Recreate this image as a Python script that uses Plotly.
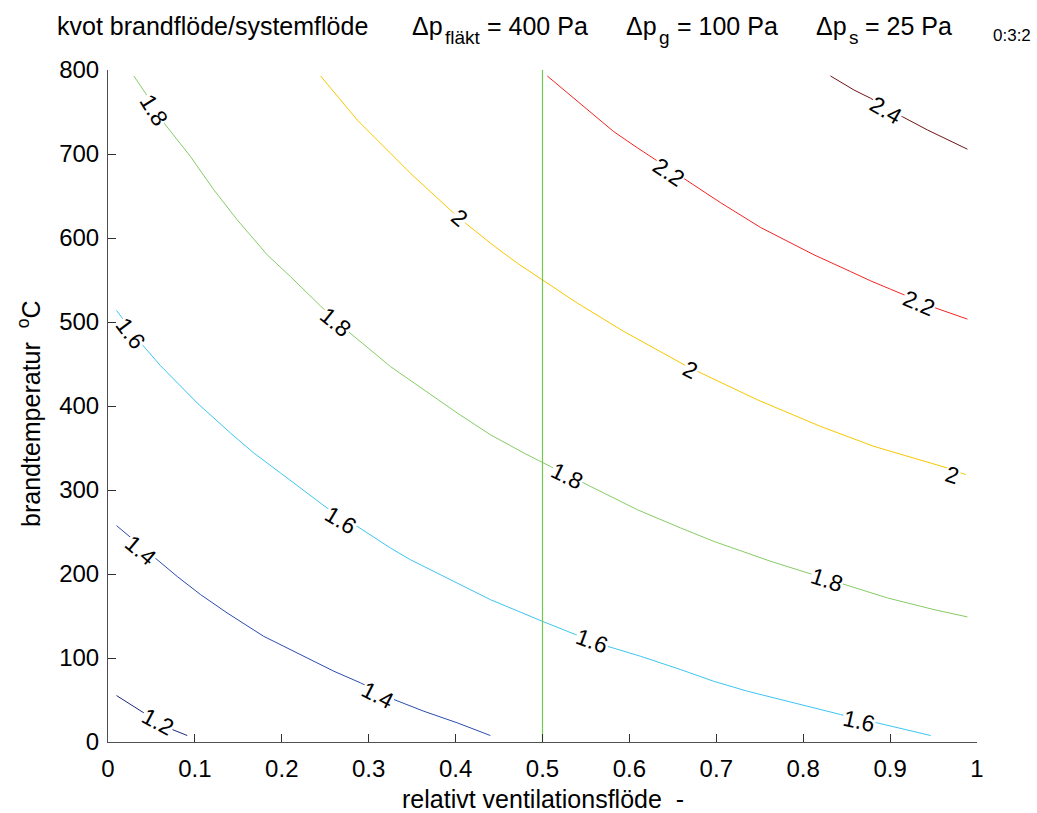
import plotly.graph_objects as go

# ---- data ----
levels = ["1.2", "1.4", "1.6", "1.8", "2", "2.2", "2.4"]

x_12 = [0.0098, 0.0317, 0.0412, 0.0739, 0.0912]
y_12 = [55.3, 40.7, 34.7, 14.9, 7.7]

x_14 = [0.0098, 0.0527, 0.0797, 0.1065, 0.137, 0.179, 0.2216, 0.260, 0.2906, 0.329, 0.3635, 0.402, 0.440]
y_14 = [257.6, 221.0, 197.0, 175.5, 153.7, 125.9, 104.1, 84.2, 70.4, 50.6, 36.6, 22.8, 7.7]

x_16 = [0.0098, 0.0412, 0.0604, 0.0834, 0.1027, 0.141, 0.1678, 0.1986, 0.229, 0.252, 0.2868, 0.325,
        0.348, 0.398, 0.440, 0.4998, 0.538, 0.5746, 0.613, 0.659, 0.697, 0.736, 0.7818, 0.843, 0.885, 0.9467]
y_16 = [513.7, 470.9, 448.0, 423.3, 403.5, 367.8, 344.0, 320.2, 296.4, 278.6, 256.7, 231.0,
        217.0, 191.3, 169.5, 143.7, 127.9, 114.0, 102.0, 86.2, 72.3, 60.4, 48.5, 32.7, 22.8, 7.7]

x_18 = [0.0297, 0.0432, 0.0662, 0.095, 0.1218, 0.1487, 0.1832, 0.210, 0.2446, 0.2772, 0.325, 0.3635,
        0.402, 0.440, 0.4786, 0.509, 0.5516, 0.609, 0.659, 0.697, 0.7626, 0.8048, 0.847, 0.897, 0.9505, 0.989]
y_18 = [792.9, 772.3, 734.6, 696.9, 657.3, 621.6, 580.0, 554.0, 519.0, 488.0, 447.0, 419.3,
        391.6, 365.8, 344.0, 328.1, 306.3, 276.6, 254.8, 238.9, 215.1, 201.3, 187.4, 171.5, 157.6, 148.9]

x_20 = [0.2446, 0.2868, 0.325, 0.350, 0.398, 0.4115, 0.440, 0.471, 0.4998, 0.540, 0.5937, 0.6667,
        0.7472, 0.820, 0.8815, 0.966, 0.987]
y_20 = [792.9, 740.5, 701.0, 675.1, 629.5, 617.6, 593.9, 570.0, 550.2, 522.5, 488.7, 447.0,
        407.4, 375.7, 351.9, 326.2, 318.2]

x_22 = [0.5055, 0.5246, 0.5516, 0.582, 0.609, 0.632, 0.6667, 0.705, 0.751, 0.8124, 0.8546, 0.8775,
        0.9006, 0.916, 0.9525, 0.989]
y_22 = [792.9, 776.2, 752.4, 726.6, 707.5, 692.0, 668.0, 642.0, 612.5, 580.0, 560.0, 549.0,
        539.0, 532.5, 516.6, 503.4]

x_24 = [0.8314, 0.8584, 0.8775, 0.914, 0.943, 0.989]
y_24 = [792.9, 776.2, 766.4, 744.5, 728.6, 705.7]

x_vline = [0.5, 0.5]
y_vline = [0, 800]

# contour labels (text, position in data units)
label_text = ["1.2", "1.4", "1.4", "1.6", "1.6", "1.6", "1.6", "1.8", "1.8", "1.8", "1.8",
              "2", "2", "2", "2.2", "2.2", "2.4"]
label_x = [0.0581, 0.0374, 0.3102, 0.0259, 0.2676, 0.5573, 0.8642, 0.0527, 0.2619, 0.5285, 0.8278,
           0.405, 0.6705, 0.9717, 0.6455, 0.9332, 0.895]
label_y = [24.4, 229.0, 56.5, 487.2, 264.7, 119.9, 24.7, 752.4, 500.6, 316.2, 193.3,
           623.6, 443.1, 318.2, 679.0, 522.5, 752.4]
label_angle = [28, 40, 27, 53, 31, 20, 13, 58, 39, 26, 18, 40, 27, 17, 34, 23, 30]

x_ticks = [0, 0.1, 0.2, 0.3, 0.4, 0.5, 0.6, 0.7, 0.8, 0.9, 1]
x_ticklabels = ["0", "0.1", "0.2", "0.3", "0.4", "0.5", "0.6", "0.7", "0.8", "0.9", "1"]
y_ticks = [0, 100, 200, 300, 400, 500, 600, 700, 800]

# title pieces: (text, is_subscript)
title_parts = [("kvot brandflöde/systemflöde", False), ("Δp", False), ("fläkt", True), ("= 400 Pa", False),
               ("Δp", False), ("g", True), ("= 100 Pa", False),
               ("Δp", False), ("s", True), ("= 25 Pa", False)]
title_left_px = [56, 411, 444, 486, 625, 658, 676, 815, 848, 864]

# ---- styles / layout ----
line_x = [x_12, x_14, x_16, x_18, x_20, x_22, x_24]
line_y = [y_12, y_14, y_16, y_18, y_20, y_22, y_24]
colors = ["#1c2878", "#2c4cb0", "#3cc6f0", "#86cc66", "#f8c800", "#f42424", "#701418"]

FONT = "Liberation Sans, Arial, Helvetica, sans-serif"
W, H = 1037, 813
L, R, T, B = 108, 60, 70, 71
pw, ph = W - L - R, H - T - B


def px_x(px):
    return (px - L) / pw


def px_y(py):
    return (H - py - B) / ph


fig = go.Figure()
for lv, xs, ys, c in zip(levels, line_x, line_y, colors):
    fig.add_trace(go.Scatter(x=xs, y=ys, mode="lines", name=lv,
                             line=dict(color=c, width=1), hoverinfo="skip"))

fig.add_trace(go.Scatter(x=x_vline, y=y_vline, mode="lines", name="0.5",
                         line=dict(color="#74c850", width=1.2), hoverinfo="skip"))

for t, lx, ly, a in zip(label_text, label_x, label_y, label_angle):
    fig.add_annotation(x=lx, y=ly, xref="x", yref="y", text=t, textangle=a,
                       showarrow=False, bgcolor="white", borderpad=0,
                       font=dict(family=FONT, size=23, color="black"))

for (t, sub), lp in zip(title_parts, title_left_px):
    fig.add_annotation(x=px_x(lp), y=px_y(37 if sub else 26), xref="paper", yref="paper",
                       text=t, showarrow=False, xanchor="left", yanchor="middle", borderpad=0,
                       font=dict(family=FONT, size=19 if sub else 25, color="black"))

fig.add_annotation(x=px_x(992), y=px_y(36), xref="paper", yref="paper", text="0:3:2",
                   showarrow=False, xanchor="left", yanchor="middle", borderpad=0,
                   font=dict(family=FONT, size=17, color="black"))

nb = "\u00a0"
fig.add_annotation(x=px_x(543), y=px_y(799), xref="paper", yref="paper",
                   text="relativt ventilationsflöde" + nb * 2 + "-", showarrow=False,
                   xanchor="center", yanchor="middle", borderpad=0,
                   font=dict(family=FONT, size=25, color="black"))
fig.add_annotation(x=px_x(29), y=px_y(414), xref="paper", yref="paper",
                   text="brandtemperatur" + nb * 2 + "<sup>o</sup>C", showarrow=False, textangle=-90,
                   xanchor="center", yanchor="middle", borderpad=0,
                   font=dict(family=FONT, size=25, color="black"))

fig.update_layout(
    width=W, height=H,
    margin=dict(l=L, r=R, t=T, b=B),
    paper_bgcolor="white", plot_bgcolor="white",
    showlegend=False,
    font=dict(family=FONT, size=24, color="black"),
    xaxis=dict(range=[0, 1], tickvals=x_ticks, ticktext=x_ticklabels, ticks="inside", ticklen=8,
               tickcolor="#303030", showline=True, linecolor="#505050", linewidth=1,
               showgrid=False, zeroline=False, tickfont=dict(size=24), ticklabelstandoff=5),
    yaxis=dict(range=[0, 800], tickvals=y_ticks, ticks="inside", ticklen=8,
               tickcolor="#303030", showline=True, linecolor="#505050", linewidth=1,
               showgrid=False, zeroline=False, tickfont=dict(size=24), ticklabelstandoff=3),
)

fig.write_html("out.html")
